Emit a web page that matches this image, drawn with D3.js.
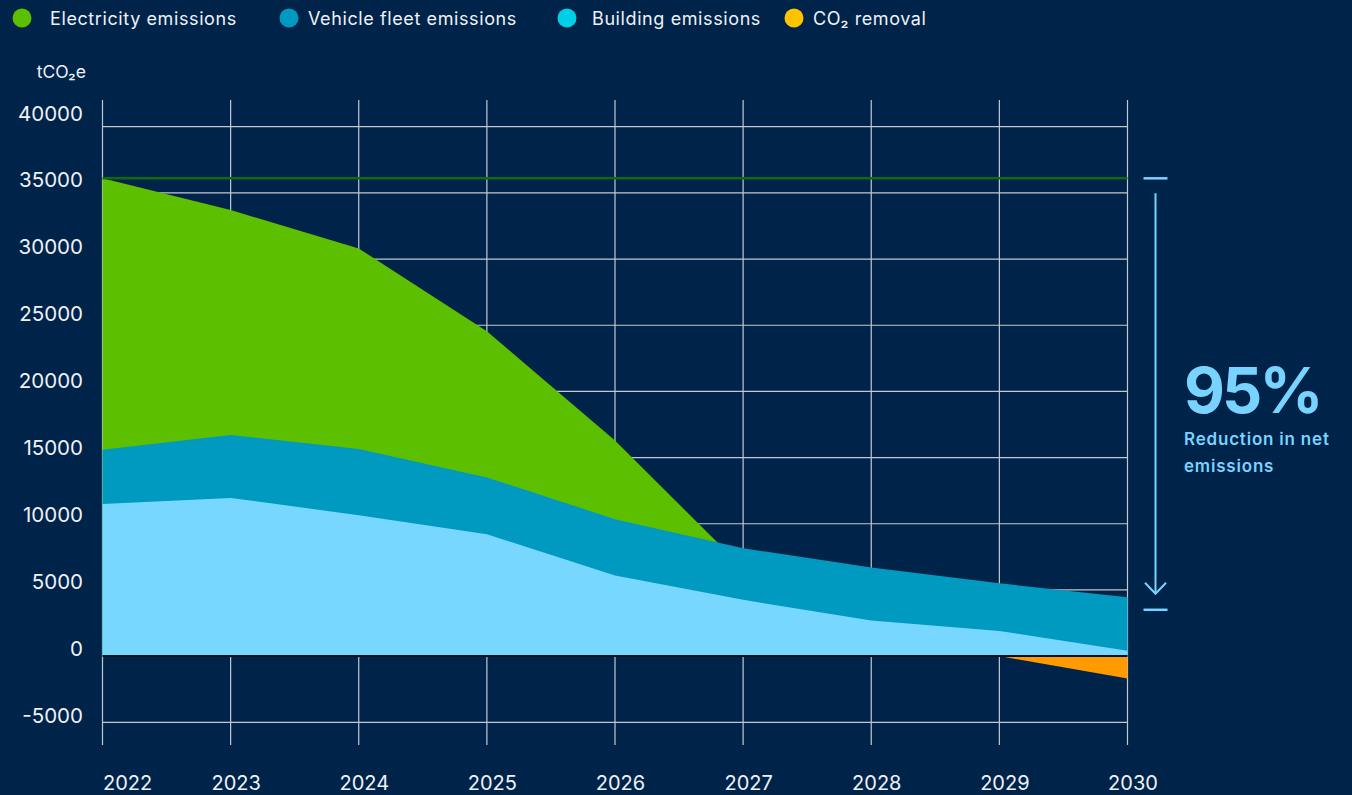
<!DOCTYPE html>
<html>
<head>
<meta charset="utf-8">
<script src="https://cdn.jsdelivr.net/npm/d3@7"></script>
<style>
  html, body { margin: 0; padding: 0; background: #00234a; }
  svg { display: block; font-family: Inter, "Noto Sans", sans-serif; }
</style>
</head>
<body>
<svg id="chart" width="1352" height="795"></svg>
<script>
// Emission pathway, tCO2e per year. Each layer is drawn from zero, back to front,
// so the values are the upper edge of each coloured band.
const years = [2022, 2023, 2024, 2025, 2026, 2027, 2028, 2029, 2030];
const electricityLevel = [36100, 33700, 30800, 24550, 16300, 6650, null, null, null];
const vehicleLevel     = [15600, 16700, 15650, 13500, 10350, 8150, 6700, 5500, 4450];
const buildingLevel    = [11500, 11950, 10650, 9200, 6100, 4250, 2700, 1900, 400];
const co2Removal       = [null, null, null, null, null, null, null, 0, -1700];

const yTicks = [-5000, 0, 5000, 10000, 15000, 20000, 25000, 30000, 35000, 40000];
const baselineLevel = 36100;       // 2022 starting level
const reductionRange = [36100, 3500];

const legendItems = [
  { label: "Electricity emissions", color: "#5cbf00", cx: 22, tx: 50 },
  { label: "Vehicle fleet emissions", color: "#009ac0", cx: 289, tx: 308 },
  { label: "Building emissions", color: "#00cfe6", cx: 567, tx: 592 },
  { label: "CO₂ removal", color: "#ffc300", cx: 794, tx: 813 }
];

const colors = {
  electricity: "#5cbf00",
  vehicle: "#009ac0",
  building: "#78d7ff",
  removal: "#ff9a00",
  grid: "#c3c8d0",
  text: "#eef2f6",
  accent: "#78d4ff",
  baseline: "#0c6b12"
};

const svg = d3.select("#chart");

const x = d3.scalePoint().domain(years).range([102.5, 1127.5]);
const y = d3.scaleLinear().domain([-5000, 40000]).range([722.3, 126.7]);
const yLabel = d3.scaleLinear().domain([-5000, 40000]).range([722, 120]);

// Grid
const grid = svg.append("g");
grid.selectAll("line.h").data(yTicks).join("line")
  .attr("x1", x(2022)).attr("x2", x(2030))
  .attr("y1", d => y(d)).attr("y2", d => y(d))
  .attr("stroke", colors.grid).attr("stroke-width", 1.2);
grid.selectAll("line.v").data(years).join("line")
  .attr("x1", d => x(d)).attr("x2", d => x(d))
  .attr("y1", 100).attr("y2", 745)
  .attr("stroke", colors.grid).attr("stroke-width", 1.2);

// Layered areas
function layer(values, color) {
  const pts = years.map((yr, i) => ({ yr, v: values[i] }));
  const area = d3.area()
    .defined(d => d.v !== null)
    .x(d => x(d.yr))
    .y0(y(0))
    .y1(d => y(d.v));
  svg.append("path").datum(pts).attr("d", area).attr("fill", color);
}
layer(electricityLevel, colors.electricity);
layer(vehicleLevel, colors.vehicle);
layer(buildingLevel, colors.building);
layer(co2Removal, colors.removal);

// Zero line
svg.append("line")
  .attr("x1", x(2022)).attr("x2", x(2030))
  .attr("y1", y(0)).attr("y2", y(0))
  .attr("stroke", "#05101c").attr("stroke-width", 2);

// 2022 baseline level
svg.append("line")
  .attr("x1", x(2022)).attr("x2", x(2030))
  .attr("y1", y(baselineLevel)).attr("y2", y(baselineLevel))
  .attr("stroke", colors.baseline).attr("stroke-width", 2.5);

// Y axis labels (plain hyphen for negatives)
const yAxis = d3.axisLeft(yLabel).tickValues(yTicks).tickSize(0).tickPadding(0)
  .tickFormat(d => String(d));
const gy = svg.append("g").attr("transform", "translate(83,0)").call(yAxis);
gy.select(".domain").remove();
gy.selectAll("text")
  .attr("dy", null)
  .attr("fill", colors.text)
  .style("font-size", "20.5px")
  .style("font-family", "Inter, 'Noto Sans', sans-serif");

svg.append("text")
  .attr("x", 86).attr("y", 78)
  .attr("text-anchor", "end")
  .attr("fill", colors.text)
  .style("font-size", "17.5px")
  .text("tCO₂e");

// X axis labels
const xAxis = d3.axisBottom(x).tickSize(0).tickPadding(0).tickFormat(d => String(d));
const gx = svg.append("g").attr("transform", "translate(0,790)").call(xAxis);
gx.select(".domain").remove();
gx.selectAll(".tick text")
  .attr("y", 0).attr("dy", null)
  .attr("fill", colors.text)
  .style("font-size", "20px")
  .style("font-family", "Inter, 'Noto Sans', sans-serif")
  .attr("text-anchor", d => d === 2022 ? "start" : "middle")
  .attr("x", d => d === 2022 ? 0 : 5);

// Legend
const legend = svg.append("g");
const li = legend.selectAll("g").data(legendItems).join("g");
li.append("circle").attr("cx", d => d.cx).attr("cy", 18).attr("r", 9.5).attr("fill", d => d.color);
li.append("text")
  .attr("x", d => d.tx).attr("y", 25)
  .attr("fill", colors.text)
  .style("font-size", "18px")
  .style("letter-spacing", "0.6px")
  .text(d => d.label);

// Reduction annotation
const ann = svg.append("g").attr("stroke", colors.accent).attr("fill", "none");
const ax = 1155.5;
ann.append("line").attr("x1", ax - 12).attr("x2", ax + 12)
  .attr("y1", y(reductionRange[0])).attr("y2", y(reductionRange[0])).attr("stroke-width", 2.5);
ann.append("line").attr("x1", ax - 12).attr("x2", ax + 12)
  .attr("y1", y(reductionRange[1])).attr("y2", y(reductionRange[1])).attr("stroke-width", 2.5);
const arrowTop = y(reductionRange[0]) + 15;
const arrowTip = y(reductionRange[1]) - 16;
ann.append("line").attr("x1", ax).attr("x2", ax)
  .attr("y1", arrowTop).attr("y2", arrowTip).attr("stroke-width", 2);
ann.append("path")
  .attr("d", `M${ax - 10.5},${arrowTip - 11} L${ax},${arrowTip} L${ax + 10.5},${arrowTip - 11}`)
  .attr("stroke-width", 2);

svg.append("text")
  .attr("x", 1184).attr("y", 413)
  .attr("fill", colors.accent)
  .style("font-size", "63px").style("font-weight", 700)
  .style("letter-spacing", "-2.8px")
  .text("95%");
svg.append("text")
  .attr("x", 1184).attr("y", 445)
  .attr("fill", colors.accent)
  .style("font-size", "17px").style("font-weight", 600)
  .style("letter-spacing", "0.8px")
  .text("Reduction in net");
svg.append("text")
  .attr("x", 1184).attr("y", 472)
  .attr("fill", colors.accent)
  .style("font-size", "17px").style("font-weight", 600)
  .style("letter-spacing", "0.8px")
  .text("emissions");
</script>
</body>
</html>
